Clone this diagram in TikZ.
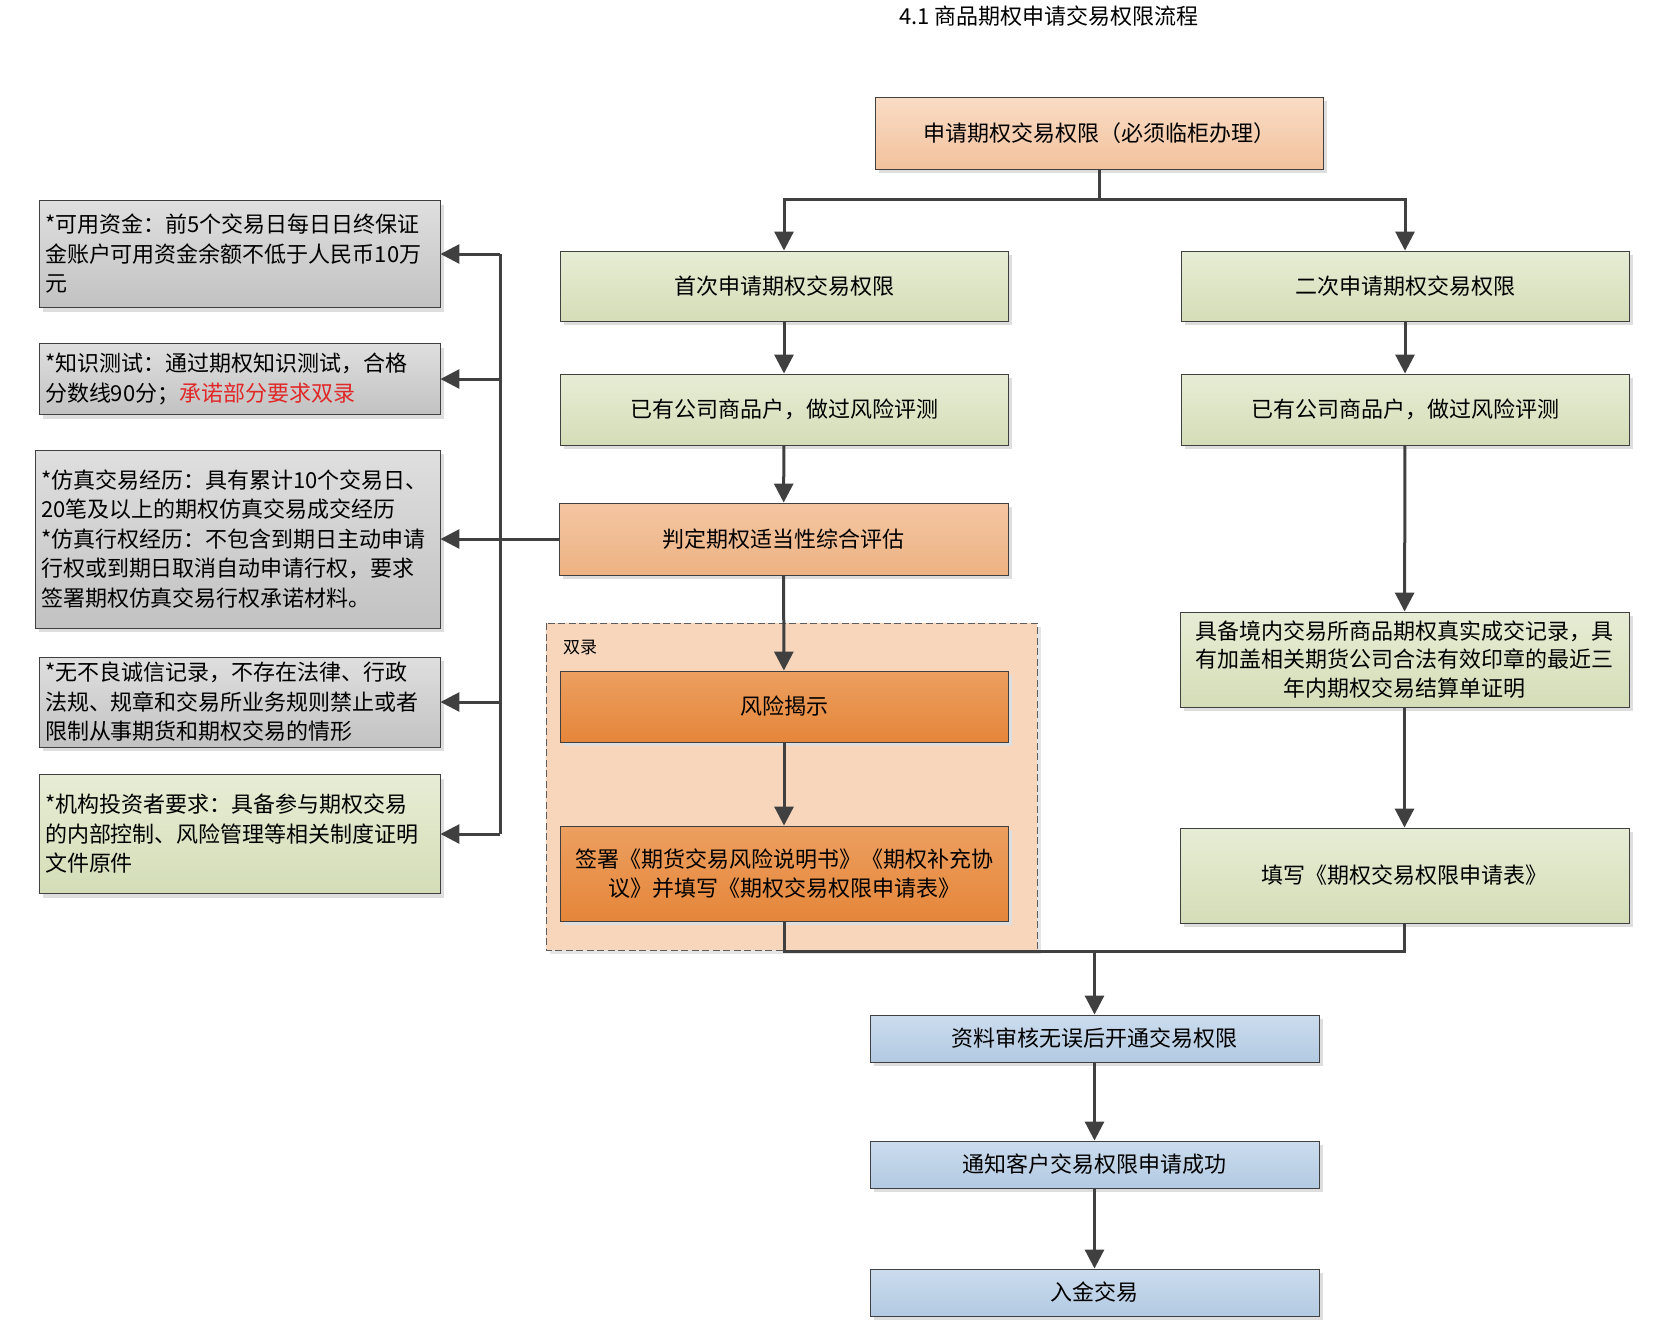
\documentclass[tikz,border=0pt]{standalone}
\usepackage{fontspec}
\setmainfont{Noto Sans CJK SC}
\usepackage{tikz}
\usetikzlibrary{positioning, arrows.meta, shadows}

\definecolor{linegray}{HTML}{404040}
\definecolor{peachtop}{HTML}{F9DCC5}
\definecolor{peachbot}{HTML}{F3C29D}
\definecolor{judgetop}{HTML}{F4C6A2}
\definecolor{judgebot}{HTML}{EDB283}
\definecolor{greentop}{HTML}{E7EDD5}
\definecolor{greenbot}{HTML}{D4DDB7}
\definecolor{graytop}{HTML}{DFDFDF}
\definecolor{graybot}{HTML}{C2C2C2}
\definecolor{orangetop}{HTML}{EC9F60}
\definecolor{orangebot}{HTML}{E5863A}
\definecolor{bluetop}{HTML}{CCDCEE}
\definecolor{bluebot}{HTML}{B2CAE2}
\definecolor{groupfill}{HTML}{F7D6BB}
\definecolor{promisered}{HTML}{E02828}

\tikzset{
  flowbox/.style={draw=linegray, line width=0.9pt, minimum width=448pt,
    minimum height=70pt, align=center, inner sep=4pt,
    font=\fontsize{22}{28.5}\selectfont,
    general shadow={fill=black!13, shadow xshift=4pt, shadow yshift=-4pt}},
  peachbox/.style={flowbox, top color=peachtop, bottom color=peachbot},
  judgebox/.style={flowbox, top color=judgetop, bottom color=judgebot},
  greenbox/.style={flowbox, top color=greentop, bottom color=greenbot},
  orangebox/.style={flowbox, top color=orangetop, bottom color=orangebot},
  bluebox/.style={flowbox, top color=bluetop, bottom color=bluebot, minimum height=47pt},
  notebox/.style={flowbox, minimum width=0pt, text width=389pt, inner xsep=6pt,
    align=left, font=\fontsize{22}{29.5}\selectfont},
  graynote/.style={notebox, top color=graytop, bottom color=graybot},
  greennote/.style={notebox, top color=greentop, bottom color=greenbot},
  groupbox/.style={draw=linegray!85, line width=0.9pt, dash pattern=on 7pt off 3.5pt,
    fill=groupfill,
    general shadow={fill=black!10, shadow xshift=4pt, shadow yshift=-4pt}},
  conn/.style={draw=linegray, line width=3pt},
  conarrow/.style={conn, -{Triangle[length=19pt,width=19pt]}},
}

\begin{document}
\begin{tikzpicture}[x=1pt,y=-1pt]
      \useasboundingbox (0,0) rectangle (1668,1320);
      \node[font=\fontsize{22}{26}\selectfont] (title) at (1049,16)
      {4.1 商品期权申请交易权限流程};

      % dual recording area
      \draw[groupbox] (546,623) rectangle (1037,950);
      \node[anchor=west, font=\fontsize{17}{20}\selectfont, inner sep=0pt] (duallabel) at (563,647) {双录};

      % main flow
      \node[peachbox, minimum height=72pt] (apply) at (1099,133)
      {申请期权交易权限（必须临柜办理）};
      \node[greenbox] (first) at (784,286) {首次申请期权交易权限};
      \node[greenbox] (second) at (1405,286) {二次申请期权交易权限};
      \node[greenbox, minimum height=71pt] (acctone) at (784,409.5) {已有公司商品户，做过风险评测};
      \node[greenbox, minimum height=71pt] (accttwo) at (1405,409.5) {已有公司商品户，做过风险评测};
      \node[judgebox, minimum width=449pt, minimum height=72pt] (judge) at (783.5,539)
      {判定期权适当性综合评估};
      \node[orangebox, minimum height=71pt] (risk) at (784,706.5) {风险揭示};
      \node[orangebox, minimum height=95pt] (sign) at (784,873.5)
      {签署《期货交易风险说明书》《期权补充协\\议》并填写《期权交易权限申请表》};
      \node[greenbox, minimum width=449pt, minimum height=95pt] (record) at (1404.5,659.5)
      {具备境内交易所商品期权真实成交记录，具\\有加盖相关期货公司合法有效印章的最近三\\年内期权交易结算单证明};
      \node[greenbox, minimum width=449pt, minimum height=95pt] (fillform) at (1404.5,875.5)
      {填写《期权交易权限申请表》};
      \node[bluebox, minimum width=449pt] (review) at (1094.5,1038.5) {资料审核无误后开通交易权限};
      \node[bluebox, minimum width=449pt] (notify) at (1094.5,1164.5) {通知客户交易权限申请成功};
      \node[bluebox, minimum width=449pt] (deposit) at (1094.5,1292.5) {入金交易};

      % requirements
      \node[graynote, minimum height=107pt] (capital) at (239.5,254)
      {*可用资金：前5个交易日每日日终保证\\金账户可用资金余额不低于人民币10万\\元};
      \node[graynote, minimum height=71pt] (quiz) at (239.5,379)
      {*知识测试：通过期权知识测试，合格\\分数线90分；\textcolor{promisered}{承诺部分要求双录}};
      \node[graynote, text width=393pt, minimum height=178pt] (simul) at (237.5,539)
      {*仿真交易经历：具有累计10个交易日、\\20笔及以上的期权仿真交易成交经历\\{}*仿真行权经历：不包含到期日主动申请\\行权或到期日取消自动申请行权，要求\\签署期权仿真交易行权承诺材料。};
      \node[graynote, minimum height=90pt] (credit) at (239.5,702)
      {*无不良诚信记录，不存在法律、行政\\法规、规章和交易所业务规则禁止或者\\限制从事期货和期权交易的情形};
      \node[greennote, minimum height=119pt] (inst) at (239.5,834)
      {*机构投资者要求：具备参与期权交易\\的内部控制、风险管理等相关制度证明\\文件原件};

      \coordinate (split) at (1099,199);
      \coordinate (merge) at (1094.5,951);
      \coordinate (bus) at (500,539);

      \draw[conarrow] (apply.south) -- (split) -| (first.north);
      \draw[conarrow] (split) -| (second.north);
      \draw[conarrow] (first) -- (acctone);
      \draw[conarrow] (acctone) -- (judge);
      \draw[conarrow] (judge) -- (risk);
      \draw[conarrow] (risk) -- (sign);
      \draw[conarrow] (second) -- (accttwo);
      \draw[conarrow] (accttwo) -- (record);
      \draw[conarrow] (record) -- (fillform);
      \draw[conarrow] (sign.south) |- (merge) -- (review.north);
      \draw[conn] (fillform.south) |- (merge);
      \draw[conarrow] (review) -- (notify);
      \draw[conarrow] (notify) -- (deposit);

      \draw[conarrow] (judge.west) -- (simul.east);
      \draw[conn] (bus |- capital.east) -- (bus |- inst.east);
      \draw[conarrow] (bus |- capital.east) -- (capital.east);
      \draw[conarrow] (bus |- quiz.east) -- (quiz.east);
      \draw[conarrow] (bus |- credit.east) -- (credit.east);
      \draw[conarrow] (bus |- inst.east) -- (inst.east);
    \end{tikzpicture}
\end{document}
